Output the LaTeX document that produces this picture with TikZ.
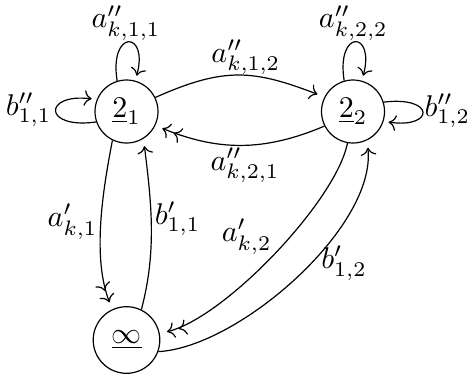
\documentclass[tikz,border=0pt]{standalone}
\usetikzlibrary{arrows.meta}
\begin{document}
\begin{tikzpicture}[x=0.33333pt,y=0.33333pt,
  st/.style={draw,circle,inner sep=0pt,line width=0.4pt},
  tr/.style={line width=0.4pt,shorten >=2.5pt},
  sgl/.style={tr,-{To}},
  dbl/.style={tr,-{To[sep=1.6pt]To}},
  lp/.style={line width=0.4pt,-{To},shorten >=1.7pt},
  lbl/.style={inner sep=0pt}]
\useasboundingbox (0,0) rectangle (467,378);
\node[st,minimum size=21pt] (n1) at (126.5,266.5) {$\underline{2}_1$};
\node[st,minimum size=21pt] (n2) at (353,266.5) {$\underline{2}_2$};
\node[st,minimum size=22.2pt] (ni) at (126.5,38) {$\underline{\infty}$};
% self loops
\draw[lp] (n1.107) to[out=99,in=75,distance=17.4pt] (n1.74);
\draw[lp] (n1.199) to[out=188,in=173,distance=18pt] (n1.158);
\draw[lp] (n2.106) to[out=99,in=75,distance=17.4pt] (n2.74);
\draw[lp] (n2.17) to[out=7,in=-8,distance=17.3pt] (n2.-18);
% between 2_1 and 2_2
\draw[sgl] (n1.26) to[out=24,in=159,distance=25.3pt] (n2.153);
\draw[dbl] (n2.207) to[out=203,in=-22,distance=22.3pt] (n1.-26);
% to and from infinity
\draw[dbl] (n1.-116) to[out=-101,in=111,out distance=17.6pt,in distance=18.5pt] (ni.115);
\draw[sgl] (ni.64) to[out=75,in=-83,distance=20.5pt] (n1.-58);
\draw[dbl] (n2.-100) to[out=-101,in=14,out distance=19.5pt,in distance=22.6pt] (ni.11);
\draw[sgl] (ni.-20) to[out=3,in=-84,out distance=26.8pt,in distance=29.1pt] (n2.-64);
% labels
\node[lbl] (l11) at (126,355) {$a''_{k,1,1}$};
\node[lbl] (lb1) at (28.5,268) {$b''_{1,1}$};
\node[lbl] (l12) at (245.8,320.5) {$a''_{k,1,2}$};
\node[lbl] (l22) at (353.3,355) {$a''_{k,2,2}$};
\node[lbl,anchor=west] (lb2) at (424,267) {$b''_{1,2}$};
\node[lbl] (l21) at (245,212.5) {$a''_{k,2,1}$};
\node[lbl] (lk1) at (72.5,156.3) {$a'_{k,1}$};
\node[lbl] (lc1) at (177.5,159) {$b'_{1,1}$};
\node[lbl] (lk2) at (246.7,141.3) {$a'_{k,2}$};
\node[lbl] (lc2) at (344,114.7) {$b'_{1,2}$};
\end{tikzpicture}
\end{document}
